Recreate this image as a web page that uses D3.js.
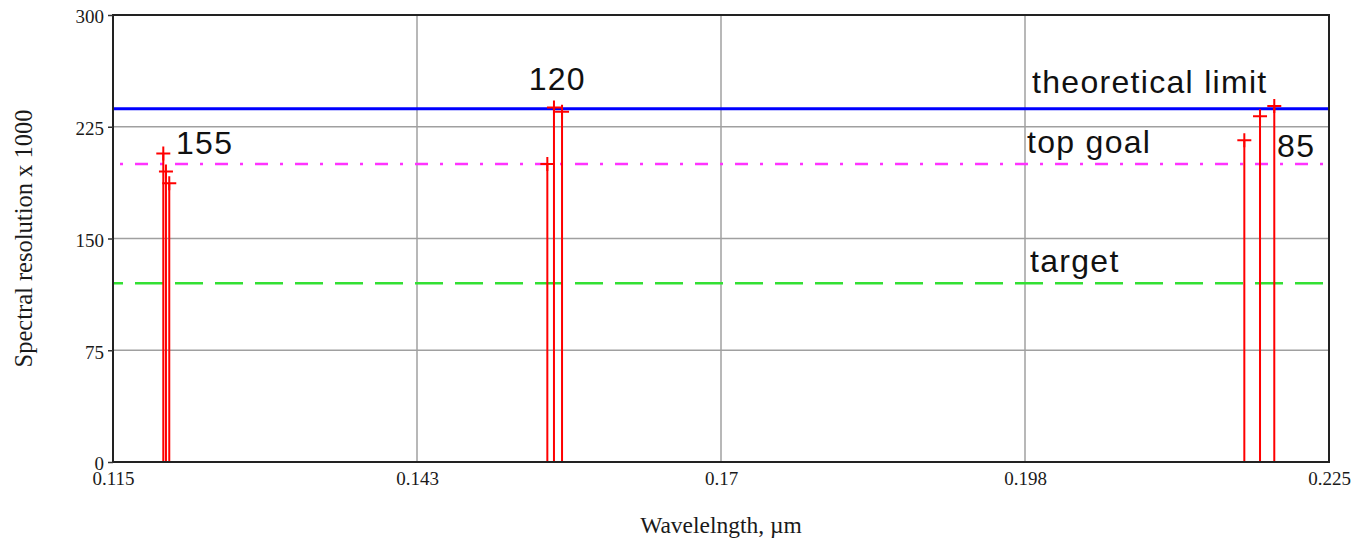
<!DOCTYPE html>
<html>
<head>
<meta charset="utf-8">
<script src="https://cdn.jsdelivr.net/npm/d3@7"></script>
<style>
  html, body { margin: 0; padding: 0; background: #fff; }
  svg { display: block; }
</style>
</head>
<body>
<svg id="chart" width="1354" height="541"></svg>
<script>
// Measured wavelengths (µm) and spectral resolution (x1000) for each channel
const wavelengths = [0.11955, 0.11979, 0.12009, 0.15429, 0.15489, 0.15562, 0.21734, 0.21876, 0.22005];
const resolution  = [207, 195, 187, 200, 238, 235, 216, 232, 239];

// Reference levels
const refNames  = ["theoretical limit", "top goal", "target"];
const refValues = [237, 200, 120];

// Annotations above each channel group
const groupLabels = ["155", "120", "85"];
const groupLabelX = [0.1207, 0.1526, 0.2203];
const groupLabelY = [207, 250, 205];

// Axis ticks
const xTicks = [0.115, 0.1425, 0.17, 0.1975, 0.225];
const xTickLabels = ["0.115", "0.143", "0.17", "0.198", "0.225"];
const yTicks = [0, 75, 150, 225, 300];

const svg = d3.select("#chart");
const plot = { left: 113, right: 1329, top: 15, bottom: 462 };

const x = d3.scaleLinear().domain([0.115, 0.225]).range([plot.left, plot.right]);
const y = d3.scaleLinear().domain([0, 300]).range([plot.bottom, plot.top]);

const serif = "'Liberation Serif', 'Times New Roman', serif";
const sans = "'Liberation Sans', Arial, sans-serif";

// Grid
const grid = svg.append("g").attr("stroke", "#a0a0a0").attr("stroke-width", 1.5);
grid.selectAll("line.v").data(xTicks.slice(1, -1)).join("line")
  .attr("x1", d => x(d)).attr("x2", d => x(d))
  .attr("y1", plot.top).attr("y2", plot.bottom);
grid.selectAll("line.h").data(yTicks.slice(1, -1)).join("line")
  .attr("x1", plot.left).attr("x2", plot.right)
  .attr("y1", d => y(d)).attr("y2", d => y(d));

// Reference lines
const refStyle = [
  { color: "#0000ff", width: 3, dash: null },
  { color: "#ff33ff", width: 2.5, dash: "13,12,3,12" },
  { color: "#33e033", width: 2.5, dash: "28,12" }
];
svg.append("g").selectAll("line").data(refValues).join("line")
  .attr("x1", plot.left).attr("x2", plot.right)
  .attr("y1", d => y(d)).attr("y2", d => y(d))
  .attr("stroke", (d, i) => refStyle[i].color)
  .attr("stroke-width", (d, i) => refStyle[i].width)
  .attr("stroke-dasharray", (d, i) => refStyle[i].dash)
  .attr("stroke-dashoffset", 18);

// Stems with + markers
const pts = wavelengths.map((w, i) => ({ w, r: resolution[i] }));
const stems = svg.append("g").attr("stroke", "#ff0000").attr("stroke-width", 2);
stems.selectAll("line.stem").data(pts).join("line")
  .attr("x1", d => x(d.w)).attr("x2", d => x(d.w))
  .attr("y1", y(0)).attr("y2", d => y(d.r));
const m = 7;
stems.selectAll("path.mark").data(pts).join("path")
  .attr("fill", "none")
  .attr("d", d => {
    const cx = x(d.w), cy = y(d.r);
    return `M${cx - m},${cy}H${cx + m}M${cx},${cy - m}V${cy + m}`;
  });

// Frame
svg.append("rect")
  .attr("x", plot.left).attr("y", plot.top)
  .attr("width", plot.right - plot.left).attr("height", plot.bottom - plot.top)
  .attr("fill", "none").attr("stroke", "#222").attr("stroke-width", 2);

// Y axis
const yAxis = svg.append("g").attr("transform", `translate(${plot.left},0)`)
  .call(d3.axisLeft(y).tickValues(yTicks).tickSize(5).tickPadding(4).tickFormat(d3.format("d")));
yAxis.select(".domain").remove();
yAxis.selectAll(".tick line").attr("stroke", "#333").attr("stroke-width", 1.5);
yAxis.selectAll(".tick text")
  .attr("font-family", serif).attr("font-size", 19).attr("fill", "#1a1a1a")
  .attr("dy", "0.42em");

// X axis
const xAxis = svg.append("g").attr("transform", `translate(0,${plot.bottom})`)
  .call(d3.axisBottom(x).tickValues(xTicks).tickSize(0).tickPadding(9.5)
    .tickFormat((d, i) => xTickLabels[i]));
xAxis.select(".domain").remove();
xAxis.selectAll(".tick text")
  .attr("font-family", serif).attr("font-size", 19).attr("fill", "#1a1a1a");

// Axis titles
svg.append("text")
  .attr("x", (plot.left + plot.right) / 2).attr("y", 533)
  .attr("text-anchor", "middle")
  .attr("font-family", serif).attr("font-size", 23.5).attr("fill", "#1a1a1a")
  .text("Wavelelngth, µm");
svg.append("text")
  .attr("transform", `translate(32,${(plot.top + plot.bottom) / 2}) rotate(-90)`)
  .attr("text-anchor", "middle")
  .attr("font-family", serif).attr("font-size", 24.5).attr("fill", "#1a1a1a")
  .text("Spectral resolution x 1000");

// Reference line names
const refLabelX = [1032, 1027, 1030];
const refLabelBase = [93, 153, 272];
svg.append("g").selectAll("text").data(refNames).join("text")
  .attr("x", (d, i) => refLabelX[i]).attr("y", (d, i) => refLabelBase[i])
  .attr("font-family", sans).attr("font-size", 32).attr("letter-spacing", 1.3)
  .attr("fill", "#111")
  .text(d => d);

// Group annotations
svg.append("g").selectAll("text").data(groupLabels).join("text")
  .attr("x", (d, i) => x(groupLabelX[i]))
  .attr("y", (d, i) => y(groupLabelY[i]))
  .attr("font-family", sans).attr("font-size", 32).attr("letter-spacing", 1.3)
  .attr("fill", "#111")
  .text(d => d);
</script>
</body>
</html>
